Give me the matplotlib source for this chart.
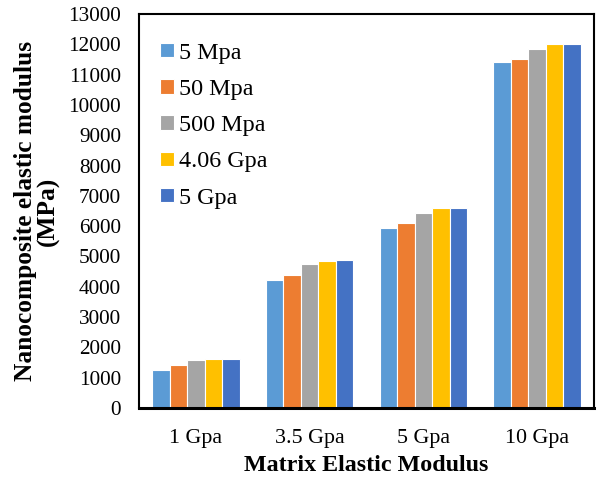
import numpy as np
import matplotlib
matplotlib.use('Agg')
import matplotlib.pyplot as plt

plt.rcParams['font.family'] = ['Liberation Serif', 'DejaVu Serif']

groups = ['1 Gpa', '3.5 Gpa', '5 Gpa', '10 Gpa']
series = ['5 Mpa', '50 Mpa', '500 Mpa', '4.06 Gpa', '5 Gpa']
values = {
    '5 Mpa': [1260, 4215, 5940, 11420],
    '50 Mpa': [1410, 4395, 6095, 11510],
    '500 Mpa': [1580, 4735, 6445, 11830],
    '4.06 Gpa': [1610, 4860, 6600, 12020],
    '5 Gpa': [1615, 4875, 6605, 12020],
}
colors = ['#5b9bd5', '#ed7d31', '#a5a5a5', '#ffc000', '#4472c4']

fig = plt.figure(figsize=(5.98, 4.79), dpi=100)
ax = fig.add_axes([0.2324, 0.1482, 0.7609, 0.8226])

x = np.arange(len(groups))
slot = 0.154
for i, name in enumerate(series):
    off = (i - 2) * slot
    ax.bar(x + off, values[name], width=slot, color=colors[i],
           edgecolor='white', linewidth=0.8, label=name)

ax.set_xlim(-0.5, len(groups) - 0.5)
ax.set_ylim(0, 13000)
ax.set_yticks(np.arange(0, 13001, 1000))
ax.set_xticks(x)
ax.set_xticklabels(groups)
ax.tick_params(axis='y', length=0, labelsize=15.3, pad=13)
ax.tick_params(axis='x', length=0, labelsize=15.8, pad=15)

for s in ax.spines.values():
    s.set_color('black')
    s.set_linewidth(1.5)
ax.spines['bottom'].set_linewidth(2.2)

ax.set_xlabel('Matrix Elastic Modulus', fontsize=17.3, fontweight='bold', labelpad=5)
ax.set_ylabel('Nanocomposite elastic modulus\n(MPa)', fontsize=18.3,
              fontweight='bold', labelpad=6, linespacing=0.95)

leg = ax.legend(loc='upper left', frameon=False, fontsize=17.4,
                handlelength=0.55, handleheight=0.55, handletextpad=0.2,
                labelspacing=0.63, borderaxespad=0.3, bbox_to_anchor=(0.01, 0.97))

fig.savefig('out.png', dpi=100)
